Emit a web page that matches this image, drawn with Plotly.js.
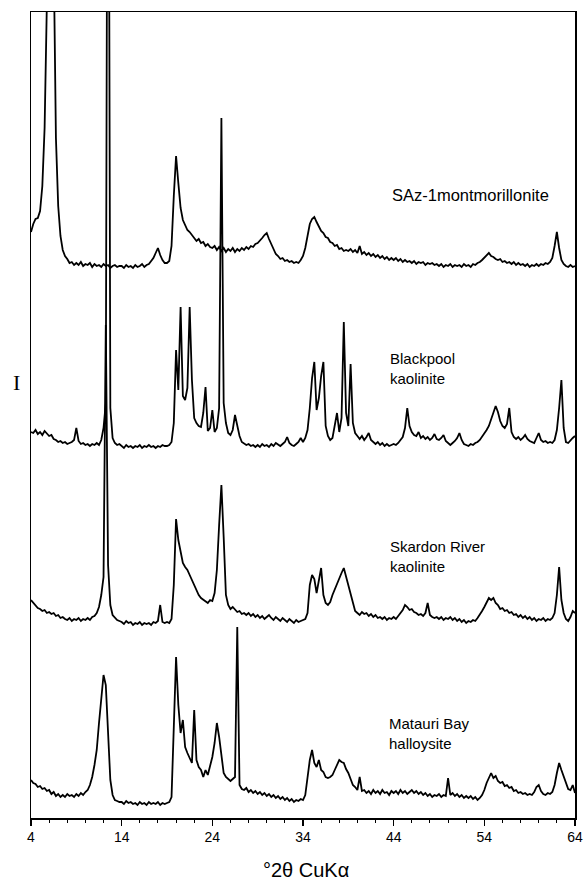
<!DOCTYPE html>
<html>
<head>
<meta charset="utf-8">
<script src="https://cdn.plot.ly/plotly-3.0.1.min.js"></script>
<style>html,body{margin:0;padding:0;background:#fff;}#chart{width:584px;height:880px;}</style>
</head>
<body>
<div id="chart"></div>
<script>
// 2θ sampling positions (degrees, CuKα)
const twoTheta = [
4,4.25,4.5,4.75,5,5.25,5.5,5.75,6,6.25,6.5,6.75,7,7.25,7.5,7.75,8,8.25,8.5,8.75,
9,9.25,9.5,9.75,10,10.25,10.5,10.75,11,11.25,11.5,11.75,12,12.25,12.5,12.75,13,13.25,13.5,13.75,
14,14.25,14.5,14.75,15,15.25,15.5,15.75,16,16.25,16.5,16.75,17,17.25,17.5,17.75,18,18.25,18.5,18.75,
19,19.25,19.5,19.75,20,20.25,20.5,20.75,21,21.25,21.5,21.75,22,22.25,22.5,22.75,23,23.25,23.5,23.75,
24,24.25,24.5,24.75,25,25.25,25.5,25.75,26,26.25,26.5,26.75,27,27.25,27.5,27.75,28,28.25,28.5,28.75,
29,29.25,29.5,29.75,30,30.25,30.5,30.75,31,31.25,31.5,31.75,32,32.25,32.5,32.75,33,33.25,33.5,33.75,
34,34.25,34.5,34.75,35,35.25,35.5,35.75,36,36.25,36.5,36.75,37,37.25,37.5,37.75,38,38.25,38.5,38.75,
39,39.25,39.5,39.75,40,40.25,40.5,40.75,41,41.25,41.5,41.75,42,42.25,42.5,42.75,43,43.25,43.5,43.75,
44,44.25,44.5,44.75,45,45.25,45.5,45.75,46,46.25,46.5,46.75,47,47.25,47.5,47.75,48,48.25,48.5,48.75,
49,49.25,49.5,49.75,50,50.25,50.5,50.75,51,51.25,51.5,51.75,52,52.25,52.5,52.75,53,53.25,53.5,53.75,
54,54.25,54.5,54.75,55,55.25,55.5,55.75,56,56.25,56.5,56.75,57,57.25,57.5,57.75,58,58.25,58.5,58.75,
59,59.25,59.5,59.75,60,60.25,60.5,60.75,61,61.25,61.5,61.75,62,62.25,62.5,62.75,63,63.25,63.5,63.75,
64];

// Intensities (arbitrary units, relative to each pattern's own background)
const saz1Montmorillonite = [
36,44,49,50,57,82,140,265,700,700,315,130,62,32,18,12,9,5,6,3,
5,3,6,2,4,3,5,1,4,2,3,1,4,2,3,0,2,3,1,2,
2,0,3,1,2,0,3,1,2,4,1,3,4,7,10,15,20,13,8,5,
5,7,22,72,112,85,60,48,42,38,36,33,30,27,29,25,26,22,24,21,
20,22,18,21,17,20,16,19,17,20,16,19,17,20,18,21,19,22,21,24,
25,27,30,33,35,29,24,18,14,12,9,10,7,8,6,7,5,6,5,8,
12,20,33,44,49,51,46,42,37,35,31,30,26,25,22,23,19,20,17,18,
17,19,16,18,15,22,14,16,13,15,12,14,11,13,10,12,9,11,8,10,
8,10,7,9,6,8,6,7,5,7,4,6,5,6,3,5,4,5,3,4,
2,4,1,3,2,4,1,3,2,3,1,4,2,3,1,4,3,5,6,8,
10,13,15,12,11,9,8,9,6,7,5,6,4,6,3,5,3,4,2,4,
1,3,2,4,2,4,3,5,4,6,10,22,36,20,8,4,2,1,3,1,
2];

const blackpoolKaolinite = [
16,15,18,14,16,13,17,14,12,13,9,8,6,7,5,6,4,5,6,8,
20,7,4,5,3,4,2,4,3,5,3,8,20,45,900,40,10,5,3,4,
2,0,3,1,2,0,2,1,3,0,2,1,3,1,2,0,2,1,3,2,
2,3,6,25,98,58,141,52,48,60,141,68,30,25,22,21,35,61,17,20,
38,16,20,40,330,45,25,15,13,18,33,22,12,6,4,3,4,2,3,1,
3,1,4,2,3,1,4,2,5,3,2,4,6,11,5,3,2,4,6,10,
6,10,18,40,70,86,38,50,72,86,22,12,8,10,22,35,16,30,126,35,
22,84,25,15,12,9,12,8,11,15,8,6,4,6,3,5,2,4,2,3,
4,3,5,8,11,20,40,22,16,13,12,16,10,12,9,11,8,10,14,9,
8,10,13,7,5,3,5,7,10,15,8,4,3,2,4,3,5,6,8,11,
14,18,22,28,34,42,36,27,22,20,24,40,16,11,9,11,8,10,13,9,
7,6,5,10,15,8,6,7,5,6,5,8,18,40,68,20,6,5,8,10,
12];

const skardonRiverKaolinite = [
25,22,19,17,16,14,15,12,13,11,12,9,10,7,8,6,5,7,4,6,
5,7,4,6,5,7,5,8,9,12,18,30,48,300,60,20,10,7,5,4,
3,1,4,2,3,0,2,1,3,0,2,1,2,0,3,2,4,20,3,2,
3,2,6,40,106,85,72,62,58,55,50,45,40,34,30,27,25,24,22,25,
24,32,55,100,140,88,30,20,16,18,15,13,14,11,12,10,12,9,11,8,
10,7,9,6,8,10,7,5,8,6,4,7,5,3,6,4,2,5,3,4,
5,6,12,40,50,46,32,45,57,30,22,20,23,30,36,42,46,52,57,48,
38,30,20,14,12,10,13,11,12,9,11,8,10,7,8,6,8,5,7,6,
8,6,9,12,15,20,18,15,16,13,12,10,11,9,12,22,10,8,7,8,
6,8,5,7,6,8,5,7,4,6,3,5,2,4,3,5,4,7,10,14,
18,23,27,25,27,22,20,16,17,14,15,12,13,10,11,8,10,7,9,6,
8,5,7,4,6,5,7,4,6,5,7,12,30,58,25,12,6,4,8,14,
12];

const matauriBayHalloysite = [
25,22,21,18,19,16,17,14,15,11,13,9,11,8,10,8,11,9,10,8,
11,9,12,10,13,15,20,28,40,55,82,108,130,120,78,25,10,5,4,3,
3,1,4,2,3,1,2,0,3,1,2,0,3,1,2,1,3,0,2,1,
2,3,8,70,148,100,72,85,58,52,46,42,95,45,38,35,28,35,30,38,
48,62,82,68,50,32,28,26,24,26,28,178,20,16,15,17,13,15,12,14,
11,13,10,12,9,11,8,10,7,9,6,8,5,7,4,6,3,5,4,6,
5,10,28,45,55,42,38,45,35,33,28,27,28,30,35,40,45,43,42,36,
32,26,20,18,15,28,14,15,12,14,11,15,12,14,11,15,12,13,10,14,
12,14,11,15,12,14,11,13,15,12,14,11,13,10,12,9,11,8,10,9,
11,8,10,9,27,10,12,9,11,8,10,7,9,7,9,6,8,5,7,10,
15,22,28,32,27,29,24,22,23,19,20,17,18,14,15,12,13,11,12,10,
11,10,13,18,20,14,11,10,12,11,13,20,32,42,35,28,22,16,15,20,
12];

const sampleNames = ["SAz-1montmorillonite", "Blackpool<br>kaolinite", "Skardon River<br>kaolinite", "Matauri Bay<br>halloysite"];
const patterns = [saz1Montmorillonite, blackpoolKaolinite, skardonRiverKaolinite, matauriBayHalloysite];
// vertical stacking offset of each pattern
const stackOffset = [550, 370, 193, 13];
// label anchor for each pattern (2θ, stacked intensity)
const labelTheta = [43.6, 43.4, 43.4, 43.3];
const labelLevel = [623, 450, 262, 85];
const labelSize = [16.5, 15, 15, 15];

const FONT = '"Liberation Sans", Arial, Helvetica, sans-serif';

const traces = patterns.map((p, k) => ({
  type: 'scatter',
  mode: 'lines',
  x: twoTheta,
  y: p.map(v => v + stackOffset[k]),
  line: {color: '#000', width: 1.8},
  hoverinfo: 'skip',
  showlegend: false
}));

const annotations = sampleNames.map((t, k) => ({
  text: t, x: labelTheta[k], y: labelLevel[k], xref: 'x', yref: 'y',
  xanchor: 'left', yanchor: 'middle', align: 'left', showarrow: false,
  font: {family: FONT, size: labelSize[k], color: '#000'}
}));
annotations.push({
  text: 'I', xref: 'paper', yref: 'paper', x: -0.027, y: 0.54,
  xanchor: 'center', yanchor: 'middle', showarrow: false,
  font: {family: '"Liberation Serif", "DejaVu Serif", serif', size: 22, color: '#000'}
});
annotations.push({
  text: '°2θ CuKα', xref: 'paper', yref: 'paper', x: 0.5055, y: -0.064,
  xanchor: 'center', yanchor: 'middle', showarrow: false,
  font: {family: FONT, size: 20, color: '#000'}
});

const layout = {
  width: 584, height: 880,
  margin: {l: 31, r: 9, t: 12, b: 62},
  paper_bgcolor: '#fff', plot_bgcolor: '#fff',
  showlegend: false,
  xaxis: {
    range: [4, 64], tickmode: 'linear', tick0: 4, dtick: 10,
    ticks: 'outside', ticklen: 6, tickwidth: 1.2, tickcolor: '#000',
    showline: true, linecolor: '#000', linewidth: 1.5, mirror: true,
    showgrid: false, zeroline: false,
    tickfont: {family: FONT, size: 14, color: '#000'},
    minor: {tick0: 4, dtick: 2, ticks: 'outside', ticklen: 3, tickwidth: 1, tickcolor: '#000', showgrid: false}
  },
  yaxis: {
    range: [0, 806], showline: true, linecolor: '#000', linewidth: 1.5, mirror: true,
    showticklabels: false, ticks: '', showgrid: false, zeroline: false
  },
  annotations: annotations
};

Plotly.newPlot('chart', traces, layout, {staticPlot: true, displayModeBar: false});
</script>
</body>
</html>
